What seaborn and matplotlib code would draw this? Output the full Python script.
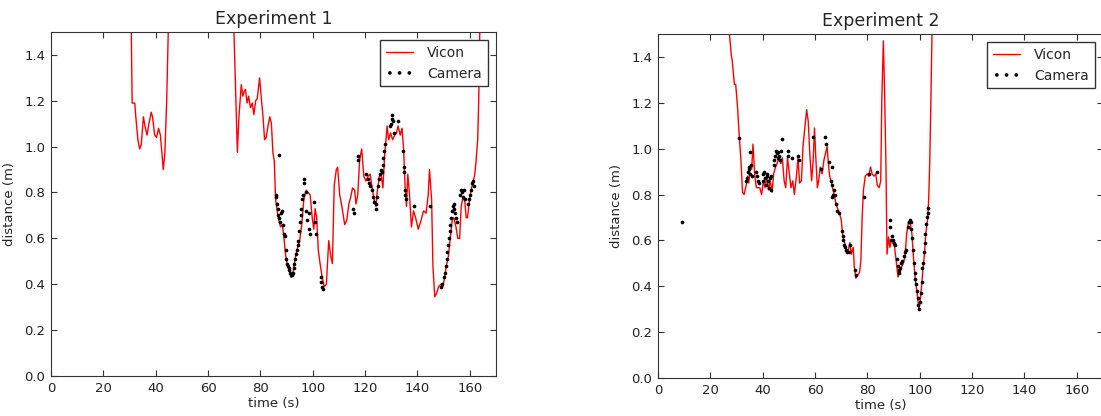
import numpy as np
import pandas as pd
import matplotlib
matplotlib.use('Agg')
import matplotlib.pyplot as plt
import seaborn as sns

# Experiment 1 - Vicon trace (values above 1.5 go off the top of the axes)
vicon1_t = [30.4, 31.0, 32.0, 32.4, 33.2, 33.9, 34.5, 35.3, 35.9, 36.7, 37.4, 38.3, 38.8, 39.6,
            40.3, 41.1, 41.8, 42.9, 43.5, 44.2, 44.8, 45.3, 57.0, 69.5, 69.9, 71.2, 71.8, 72.7,
            73.3, 73.8, 74.3, 74.9, 75.5, 76.2, 76.9, 77.5, 78.2, 78.8, 79.7, 80.2, 81.0, 81.6,
            82.2, 82.9, 83.6, 84.2, 84.8, 85.3, 85.8, 86.4, 87.0, 87.7, 88.4, 89.1, 89.6, 90.2,
            91.0, 91.8, 92.6, 93.4, 94.2, 95.0, 95.8, 96.6, 97.5, 98.2, 99.0, 99.8, 100.4, 100.9,
            101.5, 102.1, 102.8, 103.6, 104.4, 105.2, 106.1, 106.9, 107.5, 108.2, 109.0, 109.5,
            110.3, 111.1, 112.2, 113.0, 113.8, 114.5, 115.2, 116.0, 116.5, 117.2, 117.9, 118.7,
            119.5, 120.3, 121.1, 121.9, 122.7, 123.4, 124.1, 124.6, 125.4, 126.1, 126.8, 127.4,
            128.4, 129.0, 129.7, 130.5, 131.3, 132.0, 132.6, 133.4, 134.1, 134.7, 135.3, 135.8,
            136.3, 136.9, 137.7, 138.5, 139.3, 140.3, 141.4, 142.3, 143.3, 144.1, 144.6, 145.4,
            145.9, 146.6, 147.3, 148.1, 148.9, 149.7, 150.4, 151.0, 151.8, 152.6, 153.3, 153.9,
            154.7, 155.4, 156.1, 156.7, 157.4, 158.1, 158.6, 159.1, 159.8, 160.5, 161.1, 161.9,
            162.4, 163.0, 163.4, 163.8, 164.2]
vicon1_d = [1.80, 1.19, 1.19, 1.13, 1.03, 0.99, 1.01, 1.13, 1.09, 1.05, 1.10, 1.15, 1.13, 1.05,
            1.04, 1.08, 1.05, 0.90, 0.97, 1.20, 1.50, 1.80, 2.50, 1.80, 1.50, 0.975, 1.13, 1.27,
            1.22, 1.24, 1.25, 1.19, 1.22, 1.17, 1.19, 1.14, 1.20, 1.21, 1.30, 1.23, 1.13, 1.03,
            1.04, 1.09, 1.13, 1.10, 0.97, 0.94, 0.77, 0.72, 0.68, 0.65, 0.66, 0.59, 0.53, 0.49,
            0.46, 0.43, 0.46, 0.52, 0.56, 0.59, 0.66, 0.77, 0.81, 0.80, 0.79, 0.69, 0.64, 0.73,
            0.69, 0.55, 0.49, 0.43, 0.39, 0.40, 0.59, 0.52, 0.49, 0.83, 0.90, 0.91,
            0.79, 0.74, 0.66, 0.68, 0.75, 0.78, 0.82, 0.81, 0.75, 0.79, 0.94, 0.99,
            0.87, 0.85, 0.87, 0.88, 0.82, 0.77, 0.74, 0.80, 0.87, 0.88, 0.82, 0.95,
            1.09, 1.03, 1.06, 1.03, 1.05, 1.06, 1.09, 1.05, 1.08, 0.99, 0.82, 0.74,
            0.88, 0.80, 0.65, 0.72, 0.69, 0.64, 0.68, 0.72, 0.71, 0.79, 0.90, 0.77,
            0.48, 0.345, 0.36, 0.39, 0.40, 0.39, 0.43, 0.48, 0.52, 0.61, 0.68, 0.69,
            0.65, 0.60, 0.60, 0.74, 0.78, 0.76, 0.69, 0.69, 0.76, 0.81, 0.84, 0.88,
            0.94, 1.03, 1.20, 1.50, 1.80]

# Experiment 1 - Camera detections
camera1_t = [87.0, 85.8, 86.0, 86.3, 86.6, 86.9, 87.2, 87.6, 88.0, 88.3, 88.6, 89.0, 89.3,
             89.6, 89.9, 90.2, 90.5, 90.8, 91.1, 91.4, 91.7, 92.0, 92.3,
             92.7, 93.0, 93.3, 93.6, 93.9, 94.2, 94.5, 94.8, 95.1, 95.4, 95.7, 96.0, 96.3, 96.6, 96.8,
             97.3, 97.6, 97.9, 98.4, 98.7, 99.0, 100.4, 101.0, 101.2,
             103.0, 103.3, 103.6, 103.9, 115.5, 115.7, 117.2, 117.4,
             120.5, 121.0, 121.5, 122.0, 122.5, 123.0, 123.5, 124.0, 124.3, 124.6, 125.0, 125.3,
             125.6, 126.0, 126.3, 126.7, 127.0, 127.3, 127.6,
             129.5, 129.8, 130.1, 130.4, 130.7, 131.0, 132.5,
             134.6, 134.8, 135.0, 135.2, 135.4, 135.6, 138.5, 144.7, 148.8, 149.3,
             150.2, 150.5, 150.8, 151.1, 151.4, 151.7, 152.0, 152.3, 152.6, 152.9, 153.2, 153.5,
             153.8, 154.1, 154.4, 154.7, 155.0,
             156.3, 156.6, 157.0, 157.3, 157.7, 158.1,
             159.3, 159.7, 160.1, 160.5, 160.9, 161.3, 161.7]
camera1_d = [0.965, 0.79, 0.78, 0.75, 0.73, 0.70, 0.69, 0.67, 0.71, 0.72, 0.66, 0.62, 0.61,
             0.55, 0.51, 0.49, 0.48, 0.47, 0.46, 0.45, 0.44, 0.44, 0.45,
             0.47, 0.49, 0.51, 0.53, 0.55, 0.57, 0.59, 0.63, 0.67, 0.70, 0.73, 0.77, 0.79, 0.84, 0.86,
             0.80, 0.72, 0.68, 0.71, 0.64, 0.62, 0.76, 0.67, 0.62,
             0.43, 0.41, 0.39, 0.38, 0.73, 0.71, 0.94, 0.96,
             0.88, 0.86, 0.84, 0.83, 0.81, 0.78, 0.76, 0.75, 0.73, 0.78, 0.83, 0.86,
             0.88, 0.90, 0.89, 0.92, 0.95, 0.98, 1.01,
             1.09, 1.10, 1.14, 1.12, 1.11, 1.06, 1.11,
             0.98, 0.91, 0.89, 0.81, 0.79, 0.77, 0.74, 0.74, 0.39, 0.40,
             0.43, 0.45, 0.48, 0.51, 0.54, 0.57, 0.60, 0.63, 0.66, 0.69, 0.72, 0.74,
             0.75, 0.73, 0.71, 0.69, 0.67,
             0.79, 0.81, 0.80, 0.78, 0.81, 0.77,
             0.75, 0.77, 0.79, 0.81, 0.84, 0.85, 0.83]

# Experiment 2 - Vicon trace
vicon2_t = [27.0, 27.3, 28.0, 28.4, 29.2, 29.7, 30.4, 31.0, 31.7, 32.3, 32.9, 33.7, 34.3, 34.7,
            35.2, 35.8, 36.3, 37.0, 37.6, 38.3, 38.9, 39.6, 40.3, 40.9, 41.6, 42.2, 42.9, 43.6,
            44.2, 44.9, 45.5, 46.2, 46.9, 47.5, 48.2, 48.8, 49.5, 50.2, 50.8, 51.5, 52.1, 52.9,
            53.5, 54.1, 54.8, 55.4, 56.1, 56.8, 57.4, 58.0, 58.7, 59.3, 59.8, 60.3, 60.9, 61.4,
            62.0, 62.7, 63.4, 64.0, 64.6, 65.1, 65.6, 66.1, 66.7, 67.3, 68.0, 68.6, 69.3, 70.0,
            70.6, 71.3, 71.9, 72.6, 73.3, 73.9, 74.6, 75.0, 75.6, 76.3, 77.0, 77.5, 78.0, 78.5,
            79.2, 79.9, 80.5, 81.2, 81.8, 82.5, 83.2, 83.8, 84.5, 85.1, 85.5, 86.1, 86.6, 87.1,
            87.5, 88.1, 88.6, 89.1, 89.8, 90.4, 91.1, 91.7, 92.4, 93.1, 93.7, 94.4, 95.0, 95.7,
            96.4, 97.0, 97.7, 98.3, 99.0, 99.7, 100.2, 100.7, 101.3, 101.8, 102.3, 103.0, 103.4,
            103.8, 104.2, 104.7, 105.1]
vicon2_d = [1.70, 1.50, 1.41, 1.38, 1.28, 1.28, 1.18, 1.065, 0.95, 0.81, 0.80, 0.84, 0.88, 0.85,
            0.92, 0.91, 1.02, 0.88, 0.83, 0.83, 0.83, 0.80, 0.86, 0.83, 0.88, 0.82, 0.86, 0.81,
            0.89, 0.92, 0.935, 0.96, 0.935, 0.96, 0.86, 0.83, 0.96, 0.89, 0.83, 0.86, 0.80, 0.88,
            0.96, 0.85, 0.86, 1.01, 1.09, 1.17, 1.12, 0.98, 0.86, 0.95, 1.09, 0.96, 0.83, 0.86,
            0.92, 0.89, 0.95, 0.98, 1.01, 0.935, 0.88, 0.86, 0.83, 0.80, 0.76, 0.74, 0.72, 0.69,
            0.62, 0.59, 0.565, 0.55, 0.59, 0.54, 0.57, 0.485, 0.435, 0.45, 0.46, 0.51, 0.70, 0.82,
            0.88, 0.89, 0.88, 0.92, 0.89, 0.88, 0.89, 0.84, 0.83, 0.86, 1.21, 1.47, 1.24, 0.92,
            0.54, 0.615, 0.57, 0.60, 0.59, 0.57, 0.50, 0.44, 0.47, 0.485, 0.50, 0.53, 0.63, 0.68,
            0.67, 0.63, 0.51, 0.43, 0.37, 0.30, 0.34, 0.40, 0.485, 0.54, 0.63, 0.69, 0.775,
            0.93, 1.17, 1.50, 1.80]

# Experiment 2 - Camera detections
camera2_t = [9.3, 31.0, 33.5, 34.0, 34.3, 34.6, 34.9, 35.2, 35.5, 35.0, 35.8,
             37.3, 37.8, 38.2, 38.5,
             40.0, 40.3, 40.6, 40.9, 41.2, 41.5, 41.8, 42.1, 42.4, 42.7, 43.0, 43.3,
             44.2, 44.5, 44.8, 45.1, 45.4, 45.7, 46.0, 46.3, 46.6, 46.9, 47.2,
             49.6, 49.8, 51.2, 53.5, 53.7, 59.2, 62.3, 63.8, 64.3,
             65.2, 66.5, 66.0, 66.3, 66.6, 67.0, 67.3, 67.7, 68.0, 68.5,
             69.3, 70.2, 70.5, 70.8, 71.1, 71.5, 72.0, 72.4, 72.8, 73.2,
             75.2, 75.5, 78.8, 80.8, 83.5,
             88.5, 88.6, 89.2, 89.5, 89.8, 90.2, 90.5,
             91.3, 91.6, 91.9, 92.2, 92.6, 93.0, 93.4, 93.8, 94.2, 94.6,
             95.6, 95.9, 96.2, 96.5, 96.8, 97.1,
             97.4, 97.7, 98.0, 98.3, 98.6, 98.9, 99.2, 99.5, 99.8, 100.1,
             100.4, 100.7, 101.0, 101.3, 101.6, 101.9, 102.2, 102.5, 102.8, 103.0, 103.1]
camera2_d = [0.68, 1.045, 0.86, 0.87, 0.90, 0.92, 0.91, 0.89, 0.93, 0.985, 0.88,
             0.90, 0.88, 0.86, 0.85,
             0.86, 0.89, 0.90, 0.87, 0.84, 0.88, 0.89, 0.86, 0.83, 0.87, 0.88, 0.82,
             0.93, 0.95, 0.97, 0.99, 0.98, 0.96, 0.985, 0.97, 0.95, 0.99, 1.04,
             0.99, 0.97, 0.96, 0.97, 0.95, 1.05, 0.91, 1.05, 1.02,
             0.94, 0.92, 0.86, 0.84, 0.79, 0.80, 0.82, 0.80, 0.76, 0.73,
             0.72, 0.64, 0.62, 0.60, 0.58, 0.57, 0.56, 0.55, 0.55, 0.58,
             0.47, 0.45, 0.79, 0.89, 0.90,
             0.69, 0.66, 0.60, 0.62, 0.60, 0.59, 0.58,
             0.52, 0.49, 0.47, 0.46, 0.48, 0.50, 0.51, 0.53, 0.55, 0.56,
             0.66, 0.68, 0.69, 0.68, 0.65, 0.61,
             0.56, 0.50, 0.46, 0.43, 0.41, 0.38, 0.35, 0.32, 0.30, 0.33,
             0.37, 0.42, 0.48, 0.50, 0.55, 0.59, 0.63, 0.67, 0.70, 0.72, 0.74]

experiments = [
    ('Experiment 1', vicon1_t, vicon1_d, camera1_t, camera1_d),
    ('Experiment 2', vicon2_t, vicon2_d, camera2_t, camera2_d),
]

sns.set_style('white', {
    'xtick.direction': 'in', 'ytick.direction': 'in',
    'axes.edgecolor': '#333333', 'axes.linewidth': 1.0,
    'xtick.top': True, 'ytick.right': True,
    'xtick.bottom': True, 'ytick.left': True,
})
plt.rcParams['font.family'] = ['DejaVu Sans']
plt.rcParams['xtick.major.size'] = 4
plt.rcParams['ytick.major.size'] = 4
plt.rcParams['xtick.color'] = '#333333'
plt.rcParams['ytick.color'] = '#333333'
plt.rcParams['xtick.labelcolor'] = '#222222'
plt.rcParams['ytick.labelcolor'] = '#222222'

fig = plt.figure(figsize=(11.01, 4.16), dpi=100)
positions = [[0.0463, 0.0962, 0.4042, 0.827], [0.5976, 0.0913, 0.4042, 0.827]]

for pos, (title, vt, vd, ct, cd) in zip(positions, experiments):
    ax = fig.add_axes(pos)
    vicon = pd.DataFrame({'t': vt, 'd': vd})
    cam = pd.DataFrame({'t': ct, 'd': cd})
    sns.lineplot(data=vicon, x='t', y='d', ax=ax, color='red', linewidth=1.0,
                 sort=False, estimator=None, label='Vicon')
    sns.scatterplot(data=cam, x='t', y='d', ax=ax, color='black', s=7, marker='o',
                    linewidth=0, label='Camera', zorder=3)
    ax.set_xlim(0, 170)
    ax.set_ylim(0, 1.5)
    ax.set_xticks(np.arange(0, 161, 20))
    ax.set_yticks(np.arange(0, 1.41, 0.2))
    ax.tick_params(labelsize=9.5, pad=4)
    ax.set_title(title, fontsize=12.5, pad=6)
    ax.set_xlabel('time (s)', fontsize=9.5, labelpad=2)
    ax.set_ylabel('distance (m)', fontsize=9.5, labelpad=6)
    leg = ax.legend(loc='upper right', fontsize=10, scatterpoints=3, fancybox=False,
                    framealpha=1, edgecolor='#333333', borderaxespad=0.6,
                    handlelength=2.0, handletextpad=1.0, scatteryoffsets=[0.5])
    leg.get_frame().set_linewidth(1.0)

fig.savefig('out.png', dpi=100)
